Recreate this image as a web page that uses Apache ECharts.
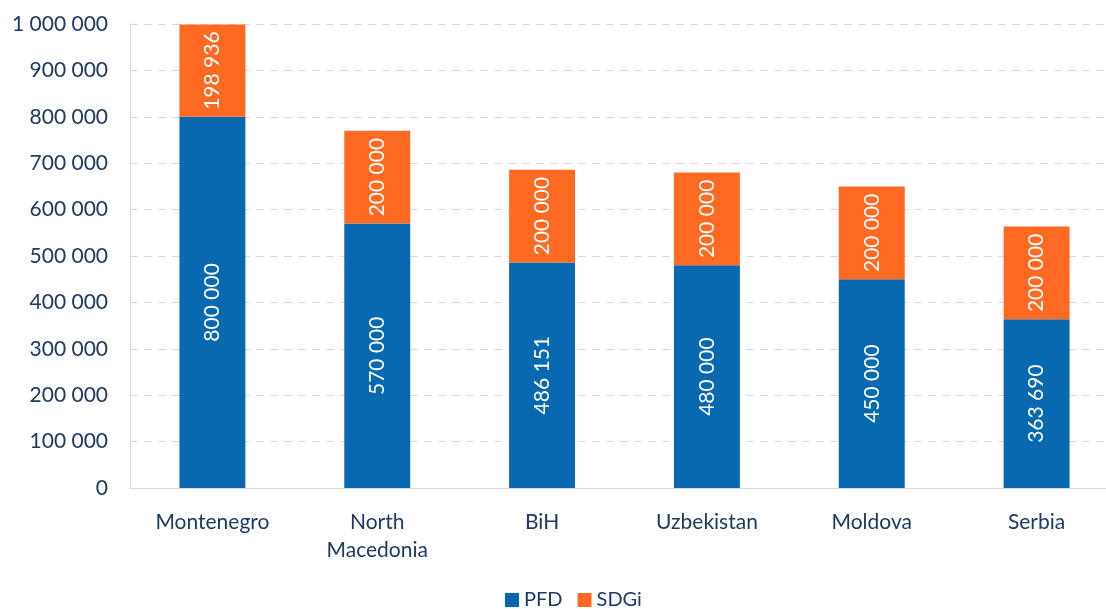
<!DOCTYPE html>
<html>
<head>
<meta charset="utf-8">
<script src="https://cdn.jsdelivr.net/npm/echarts@6/dist/echarts.min.js"></script>
<style>html,body{margin:0;padding:0;background:#fff}#c{width:1106px;height:609px}</style>
</head>
<body>
<div id="c"></div>
<script>
const categories = ['Montenegro', 'North\nMacedonia', 'BiH', 'Uzbekistan', 'Moldova', 'Serbia'];
const pfd = [800000, 570000, 486151, 480000, 450000, 363690];
const sdgi = [198936, 200000, 200000, 200000, 200000, 200000];
const yTicks = { min: 0, max: 1000000, interval: 100000 };

const fmt = v => String(Math.round(v)).replace(/\B(?=(\d{3})+(?!\d))/g, ' ');
const font = 'Lato, sans-serif';
const txt = '#1F3864';
const fs = 21;

const chart = echarts.init(document.getElementById('c'), null, { renderer: 'canvas' });
const labelCfg = {
  show: true, position: 'inside', rotate: 90, color: '#fff',
  fontFamily: font, fontSize: fs, formatter: p => fmt(p.value)
};
chart.setOption({
  animation: false,
  grid: { left: 130, width: 989, top: 24, height: 464, containLabel: false, outerBoundsMode: 'none' },
  legend: {
    data: ['PFD', 'SDGi'], top: 590, left: 500, padding: [0, 5], itemWidth: 14, itemHeight: 14, itemGap: 15,
    icon: 'rect', textStyle: { color: txt, fontFamily: font, fontSize: 20 }
  },
  xAxis: {
    type: 'category', data: categories,
    axisLine: { lineStyle: { color: '#D9D9D9', width: 1 } },
    axisTick: { show: false },
    axisLabel: { color: txt, fontFamily: font, fontSize: fs, margin: 20, lineHeight: 28 }
  },
  yAxis: {
    type: 'value', min: yTicks.min, max: yTicks.max, interval: yTicks.interval,
    axisLine: { show: true, lineStyle: { color: '#D9D9D9' } },
    axisLabel: { color: txt, fontFamily: font, fontSize: fs, margin: 22, formatter: v => fmt(v) },
    splitLine: { lineStyle: { color: '#D9D9D9', type: [8, 6], width: 1 } }
  },
  series: [
    { name: 'PFD', type: 'bar', stack: 't', data: pfd, barWidth: '40%',
      itemStyle: { color: '#0868B0' }, label: labelCfg },
    { name: 'SDGi', type: 'bar', stack: 't', data: sdgi, barWidth: '40%',
      itemStyle: { color: '#FF6A22' }, label: labelCfg }
  ]
});
</script>
</body>
</html>
